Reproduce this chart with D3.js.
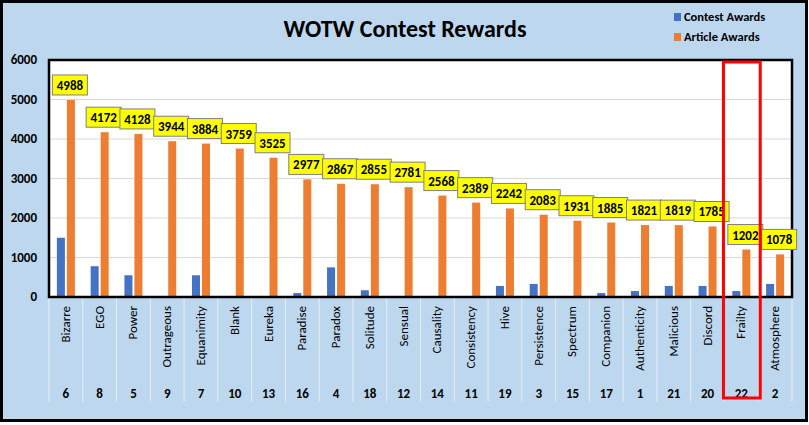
<!DOCTYPE html>
<html lang="en">
<meta charset="utf-8"/>
<head>
<style>
  body { margin: 0; background: #fff; }
  * { font-family: Calibri, "Liberation Sans", "DejaVu Sans", sans-serif; }
</style>
</head>
<body>
<svg id="container" width="809" height="425"></svg>
<script src="https://d3js.org/d3.v7.min.js"></script>
<script>
  // chart data
  let categories = ["Bizarre","EGO","Power","Outrageous","Equanimity","Blank","Eureka","Paradise","Paradox","Solitude","Sensual","Causality","Consistency","Hive","Persistence","Spectrum","Companion","Authenticity","Malicious","Discord","Frailty","Atmosphere"]
  let ranks = ["6","8","5","9","7","10","13","16","4","18","12","14","11","19","3","15","17","1","21","20","22","2"]
  let contestAwards = [1500,780,550,0,550,0,0,100,750,170,0,0,0,280,330,0,100,150,280,280,150,330]
  let articleAwards = [4988,4172,4128,3944,3884,3759,3525,2977,2867,2855,2781,2568,2389,2242,2083,1931,1885,1821,1819,1785,1202,1078]
  let yTicks = [0,1000,2000,3000,4000,5000,6000]
  let highlight = "Frailty"

  let svg = d3.select("svg")
  let plotLeft = 49, plotRight = 792, plotTop = 60, base = 297

  // background + outer frame
  svg.append("rect").attr("x",1.5).attr("y",1.5).attr("width",805).attr("height",419)
     .attr("fill","#BDD7EE").attr("stroke","#000").attr("stroke-width",3)

  let x = d3.scaleBand().domain(categories).range([plotLeft, plotRight])
  let y = d3.scaleLinear().domain([0,6000]).range([base, plotTop])

  svg.append("rect").attr("x",plotLeft).attr("y",plotTop).attr("width",plotRight-plotLeft).attr("height",base-plotTop)
     .attr("fill","#fff")

  // gridlines
  svg.selectAll(".grid").data(yTicks.slice(1)).enter().append("line")
     .attr("x1",plotLeft).attr("x2",plotRight).attr("y1",d=>y(d)).attr("y2",d=>y(d))
     .attr("stroke","#d9d9d9").attr("stroke-width",1)

  svg.selectAll(".ytick").data(yTicks).enter().append("text")
     .attr("x",37).attr("y",d=>y(d)+4).attr("text-anchor","end")
     .attr("font-size",13).attr("font-weight","bold").text(d=>d)

  // table lines below plot
  svg.selectAll(".vline").data(categories.concat(["_end"])).enter().append("line")
     .attr("x1",(d,i)=>plotLeft+i*x.bandwidth()).attr("x2",(d,i)=>plotLeft+i*x.bandwidth())
     .attr("y1",base).attr("y2",402).attr("stroke","#e6eef6").attr("stroke-width",1)

  let bw = 8
  svg.selectAll(".blue").data(categories).enter().append("rect")
     .attr("x",d=>x(d)+x.bandwidth()/2-bw-1).attr("width",bw)
     .attr("y",(d,i)=>y(contestAwards[i])).attr("height",(d,i)=>base-y(contestAwards[i]))
     .attr("fill","#4472C4")
  svg.selectAll(".orange").data(categories).enter().append("rect")
     .attr("x",d=>x(d)+x.bandwidth()/2+1).attr("width",bw)
     .attr("y",(d,i)=>y(articleAwards[i])).attr("height",(d,i)=>base-y(articleAwards[i]))
     .attr("fill","#ED7D31")

  // plot frame
  svg.append("rect").attr("x",plotLeft).attr("y",plotTop).attr("width",plotRight-plotLeft).attr("height",base-plotTop)
     .attr("fill","none").attr("stroke","#000").attr("stroke-width",2.5)

  // data labels
  let lab = svg.selectAll(".lab").data(categories).enter().append("g")
     .attr("transform",(d,i)=>"translate("+(x(d)+x.bandwidth()/2+4)+","+(y(articleAwards[i])-15)+")")
  lab.append("rect").attr("x",-17.5).attr("y",-10).attr("width",35).attr("height",20)
     .attr("fill","#FFFF00").attr("stroke","#7f7f7f").attr("stroke-width",1)
  lab.append("text").attr("text-anchor","middle").attr("y",5).attr("font-size",13)
     .attr("font-weight","bold").text((d,i)=>articleAwards[i])

  // category labels
  svg.selectAll(".cat").data(categories).enter().append("text")
     .attr("transform",d=>"translate("+(x(d)+x.bandwidth()/2+4)+",306) rotate(-90)")
     .attr("text-anchor","end").attr("font-size",13).text(d=>d)
  svg.selectAll(".rank").data(categories).enter().append("text")
     .attr("x",d=>x(d)+x.bandwidth()/2).attr("y",398).attr("text-anchor","middle")
     .attr("font-size",13).attr("font-weight","bold").text((d,i)=>ranks[i])

  // highlight box
  svg.append("rect").attr("x",x(highlight)-1).attr("y",62).attr("width",x.bandwidth()+3).attr("height",336)
     .attr("fill","none").attr("stroke","#FF0000").attr("stroke-width",3)

  // title & legend
  svg.append("text").attr("x",405).attr("y",37).attr("text-anchor","middle")
     .attr("font-size",24).attr("font-weight","bold").text("WOTW Contest Rewards")
  let legend = [["Contest Awards","#4472C4"],["Article Awards","#ED7D31"]]
  legend.forEach((l,i)=>{
    svg.append("rect").attr("x",674).attr("y",13+i*20).attr("width",7).attr("height",8).attr("fill",l[1])
    svg.append("text").attr("x",684).attr("y",21+i*20).attr("font-size",12.5).attr("font-weight","bold").text(l[0])
  })
</script>
</body>
</html>
